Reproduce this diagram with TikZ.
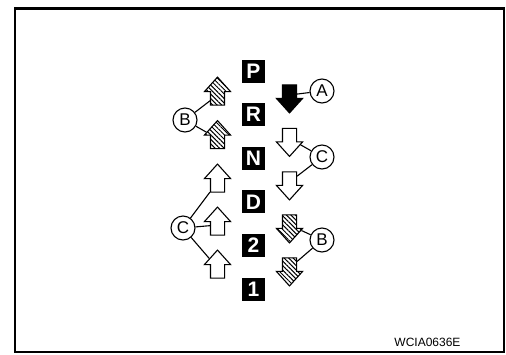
\documentclass[tikz,border=0pt]{standalone}
\usepackage{fontspec}
\setmainfont{Liberation Sans}
\usetikzlibrary{shapes.arrows,patterns.meta}

\tikzset{
  gear/.style={rectangle, fill=black, text=white, inner sep=0pt,
    minimum width=23pt, minimum height=23pt,
    font=\fontsize{21}{21}\selectfont\bfseries},
  shiftarr/.style={single arrow, draw, line width=1.1pt,
    inner xsep=0pt, inner ysep=6.5pt,
    minimum height=28pt,
    single arrow head extend=6pt, single arrow tip angle=84},
  uparr/.style={shiftarr, rotate=90},
  dnarr/.style={shiftarr, rotate=-90},
  hatch/.style={pattern={Lines[angle=-45,distance=3.2pt,line width=1pt]}},
  callout/.style={circle, draw, line width=1.1pt, inner sep=0pt,
    minimum size=24pt, font=\fontsize{17}{17}\selectfont},
  leader/.style={line width=1.1pt}
}

\begin{document}
\begin{tikzpicture}[x=1pt, y=-1pt, node distance=43.6pt]
\useasboundingbox (0,0) rectangle (506,354);
% Frame
\draw[line width=2.5pt] (15,8.5) rectangle (504,352);

% Selector positions
\node (P) [gear] at (253.5,71) {P};
\node (R) [gear, below of=P] {R};
\node (N) [gear, below of=R] {N};
\node (D) [gear, below of=N] {D};
\node (two) [gear, below of=D] {2};
\node (one) [gear, below of=two] {1};

% Upshift arrows
\node (up1) [uparr, hatch] at (217.5,95) {};
\node (up2) [uparr, hatch] at (217.5,138.5) {};
\node (up3) [uparr] at (217.5,182) {};
\node (up4) [uparr] at (217.5,225) {};
\node (up5) [uparr] at (217.5,268) {};

% Downshift arrows
\node (dn1) [dnarr, fill=black] at (289.5,95) {};
\node (dn2) [dnarr] at (289.5,138.5) {};
\node (dn3) [dnarr] at (289.5,182) {};
\node (dn4) [dnarr, hatch] at (289.5,225) {};
\node (dn5) [dnarr, hatch] at (289.5,268) {};

% Callouts
\node (lB) [callout] at (185,120) {B};
\node (lC) [callout] at (183,228) {C};
\node (rA) [callout] at (322,91) {A};
\node (rC) [callout] at (322,157) {C};
\node (rB) [callout] at (322,240) {B};

% Leaders
\draw[leader] (lB) -- (up1);
\draw[leader] (lB) -- (up2);
\draw[leader] (lC) -- (up3);
\draw[leader] (lC) -- (up4);
\draw[leader] (lC) -- (up5);
\draw[leader] (rA) -- (dn1);
\draw[leader] (rC) -- (dn2);
\draw[leader] (rC) -- (dn3);
\draw[leader] (rB) -- (dn4);
\draw[leader] (rB) -- (dn5);

% Figure code
\node (code) [anchor=base east, font=\fontsize{12}{12}\selectfont] at (464,346) {WCIA0636E};
\end{tikzpicture}
\end{document}
